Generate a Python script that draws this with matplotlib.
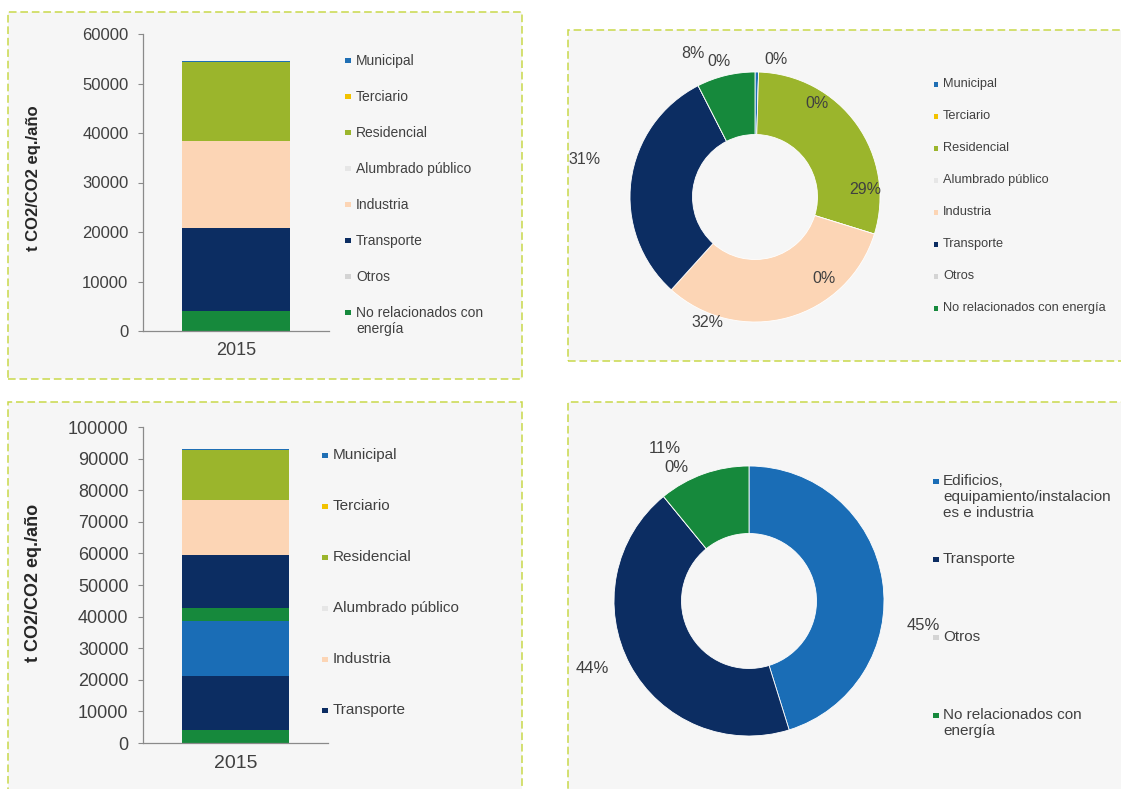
import numpy as np
import matplotlib.pyplot as plt
from matplotlib.patches import Rectangle

plt.rcParams['font.family'] = ['Liberation Sans', 'DejaVu Sans']

# emisiones por sector, año 2015 (t CO2/CO2 eq./año)
sectors = ['Municipal', 'Terciario', 'Residencial', 'Alumbrado público',
           'Industria', 'Transporte', 'Otros', 'No relacionados con energía']
sector_values = [250, 0, 16000, 0, 17400, 16800, 0, 4100]
sector_colors = ['#1f6fb4', '#f2c200', '#9bb52c', '#e6e6e6',
                 '#fcd5b5', '#0c2d62', '#d4d4d4', '#16893c']

# agrupación por ámbito
groups = ['Edificios, equipamiento/instalaciones e industria', 'Transporte',
          'Otros', 'No relacionados con energía']
group_values = [17400, 16900, 0, 4200]
group_colors = ['#1a6db6', '#0c2d62', '#d4d4d4', '#16893c']

year = '2015'
ylabel = 't CO2/CO2 eq./año'

tl_legend = ['Municipal', 'Terciario', 'Residencial', 'Alumbrado público',
             'Industria', 'Transporte', 'Otros', 'No relacionados con\nenergía']
tr_legend = sectors
bl_legend = sectors[:6]
br_legend = ['Edificios,\nequipamiento/instalacion\nes e industria', 'Transporte',
             'Otros', 'No relacionados con\nenergía']

TXT = '#404040'
AXC = '#8a8a8a'
W, H = 1121, 789

fig = plt.figure(figsize=(W / 100, H / 100), dpi=100)


def box(x0, y0, x1, y1):
    return [x0 / W, 1 - y1 / H, (x1 - x0) / W, (y1 - y0) / H]


def panel(x0, y0, x1, y1):
    fig.patches.append(Rectangle((x0 / W, 1 - y1 / H), (x1 - x0) / W, (y1 - y0) / H,
                                 transform=fig.transFigure, facecolor='#f6f6f6',
                                 edgecolor='#c9d84a', linewidth=1.1,
                                 linestyle=(0, (5, 2.5)), zorder=-5))


def legend_column(labels, colors, mx, tx, y0, step, size):
    em = size * 100 / 72
    for i, (lab, col) in enumerate(zip(labels, colors)):
        yc = y0 + i * step
        m = 0.38 * em
        my = yc + 0.1 * em
        fig.patches.append(Rectangle(((mx - m / 2) / W, 1 - (my + m / 2) / H), m / W, m / H,
                                     transform=fig.transFigure, facecolor=col,
                                     edgecolor='none', zorder=2))
        fig.text(tx / W, 1 - (yc - 0.37 * em) / H, lab, fontsize=size, color=TXT,
                 ha='left', va='top', linespacing=1.15)


def stacked_bar(ax, stacks, ymax, tick_size, year_size, year_pad):
    bottom = 0
    for vals, cols in stacks:
        for v, c in zip(vals[::-1], cols[::-1]):
            ax.bar(0, v, bottom=bottom, width=0.58, color=c, linewidth=0)
            bottom += v
    ax.set_xlim(-0.5, 0.5)
    ax.set_ylim(0, ymax)
    ax.set_yticks(np.arange(0, ymax + 1, 10000))
    ax.set_xticks([0])
    ax.set_xticklabels([year])
    ax.set_facecolor('none')
    for s in ['top', 'right']:
        ax.spines[s].set_visible(False)
    for s in ['left', 'bottom']:
        ax.spines[s].set_color(AXC)
        ax.spines[s].set_linewidth(0.9)
    ax.tick_params(axis='y', length=3.5, width=0.8, color=AXC, labelsize=tick_size,
                   labelcolor=TXT, pad=7)
    ax.tick_params(axis='x', length=0, labelsize=year_size, labelcolor=TXT, pad=year_pad)


def donut(ax, values, colors, label_xy, size):
    ax.pie(values, colors=colors, startangle=90, counterclock=False, radius=1,
           wedgeprops=dict(width=0.5, edgecolor='white', linewidth=0.6))
    ax.set_xlim(-1, 1)
    ax.set_ylim(-1, 1)
    ax.set_aspect('auto')
    total = float(sum(values))
    for v, (x, y) in zip(values, label_xy):
        pct = int(np.floor(v / total * 100 + 0.5))
        ax.text(x, y, f'{pct}%', ha='center', va='center', fontsize=size, color=TXT,
                clip_on=False)


# marcos de los cuatro paneles
panel(8, 12, 522, 379)
panel(568, 30, W + 10, 361)
panel(8, 402, 522, H + 10)
panel(568, 402, W + 10, H + 10)

# barra apilada por sectores
ax1 = fig.add_axes(box(143, 34, 329, 331))
stacked_bar(ax1, [(sector_values, sector_colors)], 60000, 12, 13, 8)
fig.text(34 / W, 1 - 178 / H, ylabel, rotation=90, ha='center', va='center',
         fontsize=12, fontweight='bold', color='#262626')
legend_column(tl_legend, sector_colors, 348, 356, 59, 36, 10)

# anillo por sectores
tr_label_xy = [(0.17, 1.10), (0.50, 0.75), (0.88, 0.06), (0.55, -0.65),
               (-0.38, -1.00), (-1.36, 0.30), (-0.29, 1.08), (-0.50, 1.15)]
ax2 = fig.add_axes(box(630, 72, 880, 322))
donut(ax2, sector_values, sector_colors, tr_label_xy, 11.5)
legend_column(tr_legend, sector_colors, 936, 943, 83, 32, 9.2)

# barra apilada: ámbitos + sectores
ax3 = fig.add_axes(box(143, 427, 328, 743))
stacked_bar(ax3, [(group_values, group_colors), (sector_values, sector_colors)],
            100000, 13, 14, 9)
fig.text(34 / W, 1 - 583 / H, ylabel, rotation=90, ha='center', va='center',
         fontsize=13, fontweight='bold', color='#262626')
legend_column(bl_legend, sector_colors, 325, 333, 454, 51, 11)

# anillo por ámbitos
br_label_xy = [(1.29, -0.18), (-1.16, -0.50), (-0.54, 0.99), (-0.62, 1.13)]
ax4 = fig.add_axes(box(614, 466, 884, 736))
donut(ax4, group_values, group_colors, br_label_xy, 12)
legend_column(br_legend, group_colors, 936, 943, 480, 78, 11)

fig.savefig('out.png', dpi=100, facecolor='white')
